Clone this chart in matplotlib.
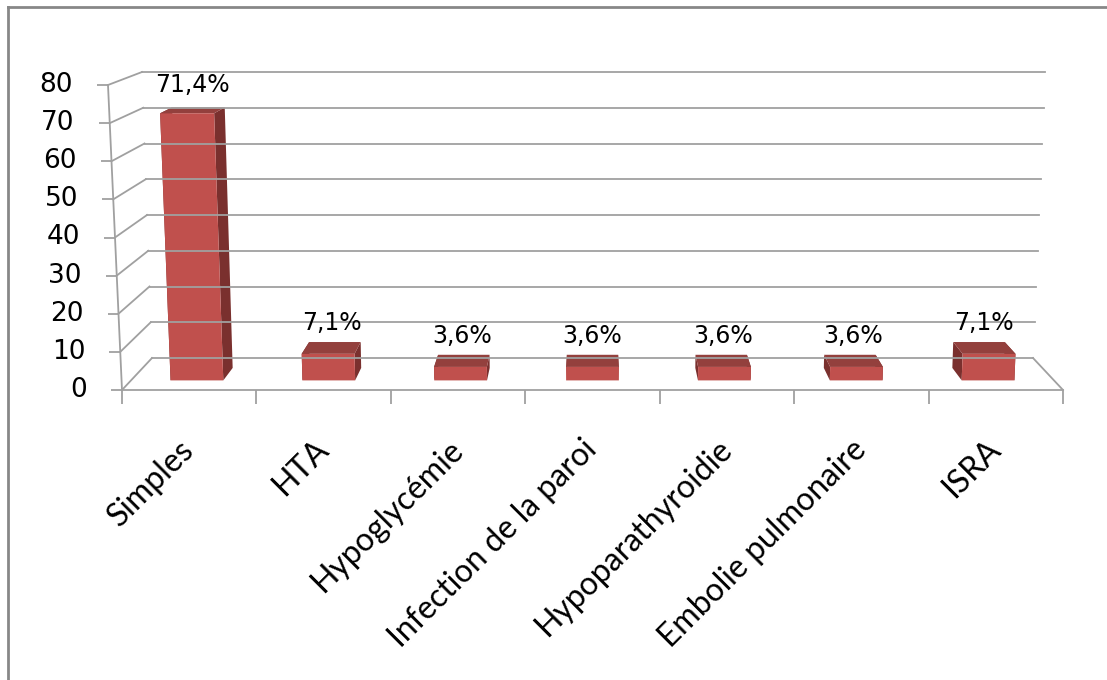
import numpy as np
import matplotlib
matplotlib.use("Agg")
import matplotlib.pyplot as plt
import matplotlib.transforms as mtransforms
from matplotlib.patches import Polygon
from matplotlib.lines import Line2D

# data
categories = ['Simples', 'HTA', 'Hypoglycémie', 'Infection de la paroi',
              'Hypoparathyroidie', 'Embolie pulmonaire', 'ISRA']
values = [71.4, 7.1, 3.6, 3.6, 3.6, 3.6, 7.1]
yticks = [0, 10, 20, 30, 40, 50, 60, 70, 80]

W, H = 1107, 680
VMAX = 80.0
NCAT = len(categories)

# pixel frame of the 3-D box (image coords, y down): front plane and back wall
FRONT = dict(xl=122, xl_top=108, xr=1063, xr_top=1076, y0=390, y1=85)
BACK = dict(xl=152, xl_top=142, xr=1033, xr_top=1045, y0=358, y1=72)

FRONT_C = '#C0504D'
TOP_C = '#93403D'
SIDE_C = '#7A302E'
GRID_C = '#A0A0A0'


def _plane(p, c, v):
    f = v / VMAX
    xl = p['xl'] + (p['xl_top'] - p['xl']) * f
    xr = p['xr'] + (p['xr_top'] - p['xr']) * f
    x = xl + (xr - xl) * c / NCAT
    y = p['y0'] + (p['y1'] - p['y0']) * f
    return x, y


class Persp(mtransforms.Transform):
    """(category, value) on the plane at depth z (0 front, 1 back) -> display px"""
    input_dims = 2
    output_dims = 2

    def __init__(self, z):
        super().__init__()
        self.z = z

    def transform_non_affine(self, values):
        values = np.asarray(values, dtype=float)
        c, v = values[:, 0], values[:, 1]
        xf, yf = _plane(FRONT, c, v)
        xb, yb = _plane(BACK, c, v)
        x = xf + (xb - xf) * self.z
        y = yf + (yb - yf) * self.z
        return np.column_stack([x, H - y])


def disp(c, v, z):
    return Persp(z).transform(np.array([[c, v]]))[0]


fig = plt.figure(figsize=(W / 100, H / 100), dpi=100)
ax = fig.add_axes([0, 0, 1, 1])
ax.set_axis_off()
ident = mtransforms.IdentityTransform()

# back wall gridlines
for t in yticks:
    ax.plot([0, NCAT], [t, t], color=GRID_C, lw=1.3, transform=Persp(1.0))
# left wall diagonals
for t in yticks:
    p0, p1 = disp(0, t, 0.0), disp(0, t, 1.0)
    ax.plot([p0[0], p1[0]], [p0[1], p1[1]], color=GRID_C, lw=1.3, transform=ident)
# floor edges
ax.plot([0, NCAT], [0, 0], color=GRID_C, lw=1.3, transform=Persp(0.0))
p0, p1 = disp(NCAT, 0, 0.0), disp(NCAT, 0, 1.0)
ax.plot([p0[0], p1[0]], [p0[1], p1[1]], color=GRID_C, lw=1.3, transform=ident)

# front value axis with ticks and labels
ax.plot([0, 0], [0, VMAX], color=GRID_C, lw=1.3, transform=Persp(0.0))
ax.plot([0] * len(yticks), yticks, ls='none', marker=0, ms=8, mew=1.3,
        color=GRID_C, transform=Persp(0.0))
lab_tr = Persp(0.0) + mtransforms.Affine2D().translate(-35, 0)
for t in yticks:
    ax.text(0, t, str(t), transform=lab_tr, ha='right', va='center',
            fontsize=19, family='DejaVu Sans', color='black')

# category ticks on the front floor edge
ax.plot(range(NCAT + 1), [0] * (NCAT + 1), ls='none', marker=3, ms=10, mew=1.3,
        color=GRID_C, transform=Persp(0.0))

# 3-D columns
zf, zb = 0.30, 0.69
bw = 0.4
for i, v in enumerate(values):
    c0, c1 = i + 0.5 - bw / 2, i + 0.5 + bw / 2
    for c in (c0, c1):
        side = [disp(c, 0, zf), disp(c, v, zf), disp(c, v, zb), disp(c, 0, zb)]
        ax.add_patch(Polygon(side, closed=True, facecolor=SIDE_C, edgecolor='none',
                             transform=ident))
    top = [disp(c0, v, zf), disp(c1, v, zf), disp(c1, v, zb), disp(c0, v, zb)]
    ax.add_patch(Polygon(top, closed=True, facecolor=TOP_C, edgecolor='none',
                         transform=ident))
ax.bar([i + 0.5 for i in range(NCAT)], values, width=bw, color=FRONT_C,
       edgecolor='none', transform=Persp(zf))

# value labels
val_tr = Persp(0.5) + mtransforms.Affine2D().translate(0, 18)
for i, v in enumerate(values):
    ax.text(i + 0.5, v, f"{v:.1f}".replace('.', ',') + '%', transform=val_tr,
            ha='center', va='baseline', fontsize=17, family='DejaVu Sans')

# category labels
cat_tr = Persp(0.0) + mtransforms.Affine2D().translate(0, -55)
for i, name in enumerate(categories):
    ax.text(i + 0.5, 0, name, transform=cat_tr, rotation=45,
            rotation_mode='anchor', ha='right', va='center',
            fontsize=23, family='Lato')

# chart area border, top and left edges only
for xs, ys in (([8, W], [H - 7, H - 7]), ([8, 8], [H - 7, 0])):
    fig.add_artist(Line2D(xs, ys, color='#878787', lw=2, transform=ident))

fig.savefig('out.png', dpi=100)
